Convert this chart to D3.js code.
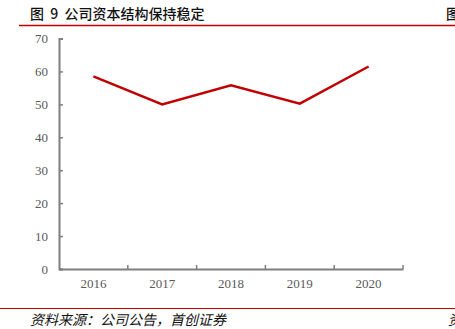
<!DOCTYPE html>
<html>
<head>
<meta charset="utf-8">
<script src="https://cdn.jsdelivr.net/npm/d3@7"></script>
<style>
  body { margin: 0; background: #fff; }
  svg { display: block; }
  .axis text { font-family: "Liberation Serif", "DejaVu Serif", serif; font-size: 13px; fill: #595959; }
  .axis path, .axis line { stroke: #7f7f7f; }
</style>
</head>
<body>
<svg id="chart"></svg>
<script>
const years = ['2016', '2017', '2018', '2019', '2020'];
const values = [58.5, 50, 55.8, 50.2, 61.5];
const yTicks = [0, 10, 20, 30, 40, 50, 60, 70];

const W = 455, H = 329;
const margin = {top: 38.5, right: 52, bottom: 60, left: 59};
const width = W - margin.left - margin.right;
const height = H - margin.top - margin.bottom;

const svg = d3.select('#chart').attr('width', W).attr('height', H);

// header
svg.append('text')
    .attr('x', 30).attr('y', 19)
    .attr('font-family', '"Noto Sans CJK SC", sans-serif')
    .attr('font-size', 14).attr('font-weight', 500)
    .attr('fill', '#111')
    .style('white-space', 'pre')
    .text('图  9  公司资本结构保持稳定');
svg.append('text')
    .attr('x', 446).attr('y', 19)
    .attr('font-family', '"Noto Sans CJK SC", sans-serif')
    .attr('font-size', 14).attr('font-weight', 500)
    .attr('fill', '#111')
    .text('图');
svg.append('line')
    .attr('x1', 19).attr('x2', W).attr('y1', 25.5).attr('y2', 25.5)
    .attr('stroke', '#c00000').attr('stroke-width', 1.5);

const chart = svg.append('g')
    .attr('transform', `translate(${margin.left}, ${margin.top})`);

const xScale = d3.scaleBand().domain(years).range([0, width]);
const yScale = d3.scaleLinear().domain([0, 70]).range([height, 0]);

const xAxisG = chart.append('g')
    .attr('class', 'axis')
    .attr('transform', `translate(0, ${height})`)
    .call(d3.axisBottom(xScale).tickSize(0).tickPadding(10));
xAxisG.select('.domain').attr('stroke-width', 2);

// band boundary ticks pointing up
const bounds = years.map(d => xScale(d) + xScale.bandwidth());
chart.append('g').selectAll('line')
    .data(bounds)
  .join('line')
    .attr('x1', d => d).attr('x2', d => d)
    .attr('y1', height).attr('y2', height - 4)
    .attr('stroke', '#7f7f7f').attr('stroke-width', 1.5);

const yAxisG = chart.append('g')
    .attr('class', 'axis')
    .call(d3.axisLeft(yScale).tickValues(yTicks).tickSize(-4).tickPadding(11));
yAxisG.select('.domain').attr('stroke-width', 2);
yAxisG.selectAll('.tick line').attr('stroke-width', 1.5);

const line = d3.line()
    .x((d, i) => xScale(years[i]) + xScale.bandwidth() / 2)
    .y(d => yScale(d));

chart.append('path')
    .datum(values)
    .attr('fill', 'none')
    .attr('stroke', '#c00000')
    .attr('stroke-width', 2.5)
    .attr('d', line);

// footer
svg.append('line')
    .attr('x1', 0).attr('x2', W).attr('y1', 308.5).attr('y2', 308.5)
    .attr('stroke', '#c00000').attr('stroke-width', 1);
svg.append('text')
    .attr('x', 30).attr('y', 325)
    .attr('font-family', '"Noto Sans CJK SC", sans-serif')
    .attr('font-size', 14).attr('font-style', 'italic')
    .attr('fill', '#111')
    .text('资料来源：公司公告，首创证券');
svg.append('text')
    .attr('x', 448).attr('y', 325)
    .attr('font-family', '"Noto Sans CJK SC", sans-serif')
    .attr('font-size', 14).attr('font-style', 'italic')
    .attr('fill', '#111')
    .text('资');
</script>
</body>
</html>
